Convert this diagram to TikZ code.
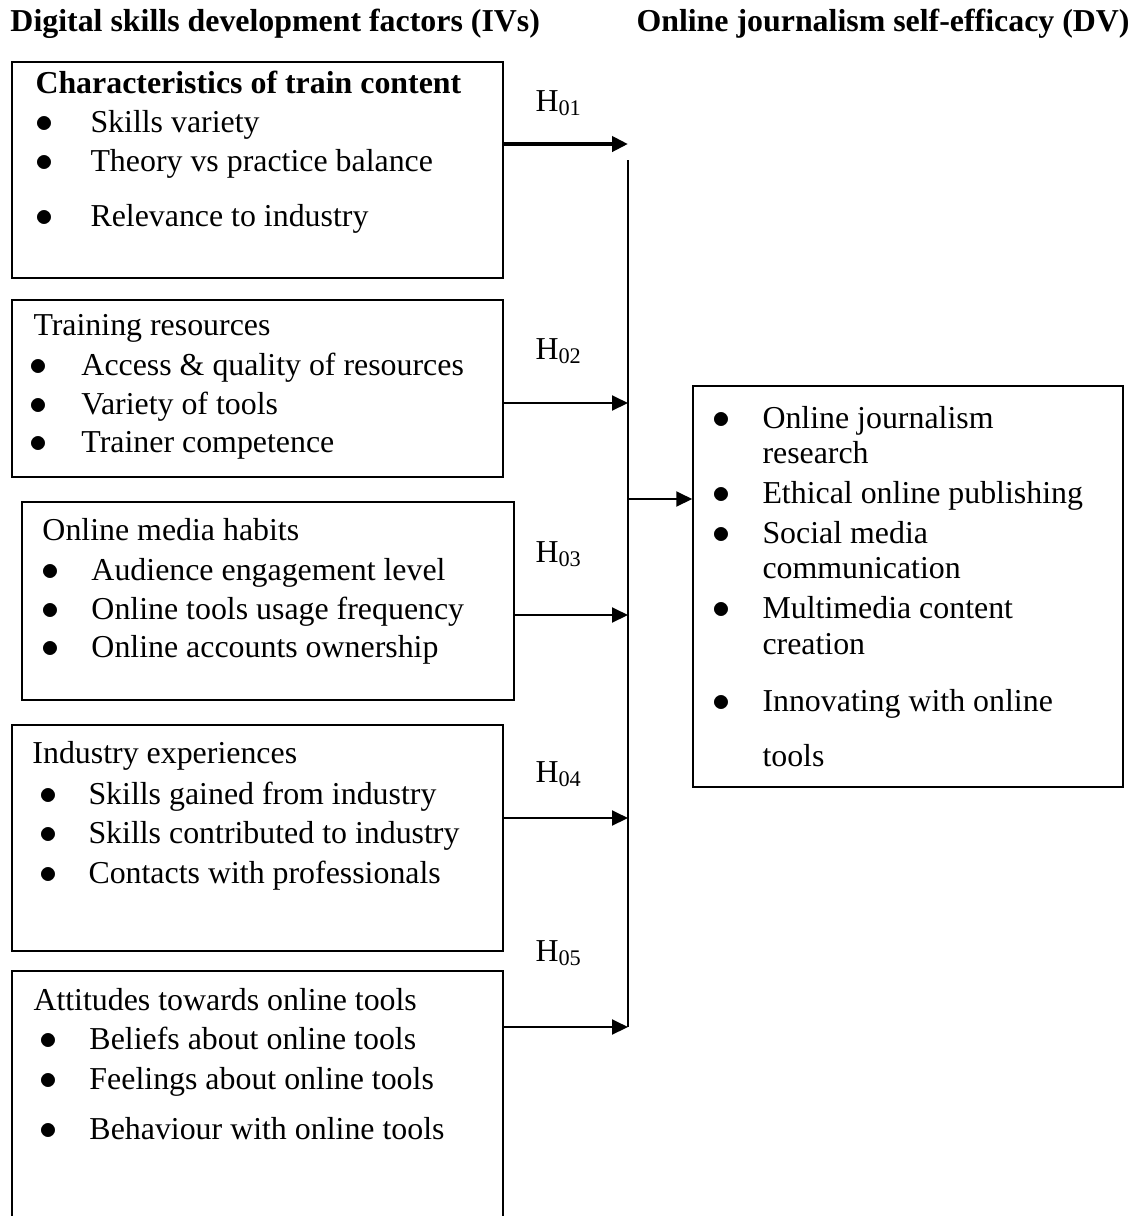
\documentclass[tikz,border=0pt]{standalone}
\usepackage{fontspec}
\setmainfont{Liberation Serif}
\usetikzlibrary{arrows.meta,positioning,fit}

\begin{document}
\begin{tikzpicture}[x=0.4pt, y=-0.4pt, font=\fontsize{12.75}{15}\selectfont,
  box/.style={draw, line width=0.6pt, rectangle, inner sep=0pt},
  item/.style={anchor=base west, inner sep=0pt},
  dot/.style={anchor=base, inner sep=0pt, font=\fontsize{15}{15}\selectfont},
  head/.style={item, font=\fontsize{12.75}{15}\selectfont\bfseries},
  link/.style={line width=0.8pt},
  arr/.style={line width=0.8pt, -{Triangle[length=6.4pt, width=6pt]}}]

\useasboundingbox (0,0) rectangle (1139,1216);
\clip (0,0) rectangle (1139,1216);

% titles
\node [head] (title-iv) at (10,31) {Digital skills development factors (IVs)};
\node [head] (title-dv) at (636,31) {Online journalism self-efficacy (DV)};

% boxes
\node [box, fit={(12,62) (503,278)}] (iv1) {};
\node [box, fit={(12,300) (503,477)}] (iv2) {};
\node [box, fit={(22,502) (514,700)}] (iv3) {};
\node [box, fit={(12,725) (503,951)}] (iv4) {};
\node [box, fit={(12,971) (503,1260)}] (iv5) {};
\node [box, fit={(693,386) (1123,787)}] (dv) {};

% box 1
\node [head] (head-1) at (35,93) {Characteristics of train content};
\foreach \t/\y [count=\i] in {Skills variety/132, Theory vs practice balance/171,
    Relevance to industry/226} {
  \node [dot] (dot-1-\i) at (45,\y) {$\bullet$};
  \node [item] (txt-1-\i) at (90,\y) {\t};
}

% box 2
\node [item] (head-2) at (33,335) {Training resources};
\foreach \t/\y [count=\i] in {Access \& quality of resources/375,
    Variety of tools/414, Trainer competence/452} {
  \node [dot] (dot-2-\i) at (39,\y) {$\bullet$};
  \node [item] (txt-2-\i) at (81,\y) {\t};
}

% box 3
\node [item] (head-3) at (42,540) {Online media habits};
\foreach \t/\y [count=\i] in {Audience engagement level/580,
    Online tools usage frequency/619, Online accounts ownership/657} {
  \node [dot] (dot-3-\i) at (50,\y) {$\bullet$};
  \node [item] (txt-3-\i) at (91,\y) {\t};
}

% box 4
\node [item] (head-4) at (32,763) {Industry experiences};
\foreach \t/\y [count=\i] in {Skills gained from industry/804,
    Skills contributed to industry/843, Contacts with professionals/883} {
  \node [dot] (dot-4-\i) at (49,\y) {$\bullet$};
  \node [item] (txt-4-\i) at (88,\y) {\t};
}

% box 5
\node [item] (head-5) at (33,1010) {Attitudes towards online tools};
\foreach \t/\y [count=\i] in {Beliefs about online tools/1049,
    Feelings about online tools/1089, Behaviour with online tools/1139} {
  \node [dot] (dot-5-\i) at (49,\y) {$\bullet$};
  \node [item] (txt-5-\i) at (89,\y) {\t};
}

% dependent variable
\foreach \y [count=\i] in {428,503,543,618,711}
  \node [dot] (dot-dv-\i) at (721,\y) {$\bullet$};
\foreach \t/\y [count=\i] in {Online journalism/428, research/463,
    Ethical online publishing/503, Social media/543, communication/578,
    Multimedia content/618, creation/654, Innovating with online/711, tools/766}
  \node [item] (txt-dv-\i) at (762,\y) {\t};

% hypotheses
\foreach \y [count=\i] in {111,359,562,782,961}
  \node [item] (hyp-\i) at (535,\y) {H\textsubscript{0\i}};

% junctions on the collecting line
\foreach \y [count=\i] in {144,403,615,818,1027}
  \coordinate (j-\i) at (628,\y);
\coordinate (j-top) at (628,160);
\coordinate (j-dv) at (628,499);

\draw [arr, line width=1.6pt] (iv1.east |- j-1) -- (j-1);
\foreach \i in {2,...,5}
  \draw [arr] (iv\i.east |- j-\i) -- (j-\i);

\draw [link] (j-top) -- (j-5);
\draw [arr] (j-dv) -- (dv.west |- j-dv);

\end{tikzpicture}
\end{document}
